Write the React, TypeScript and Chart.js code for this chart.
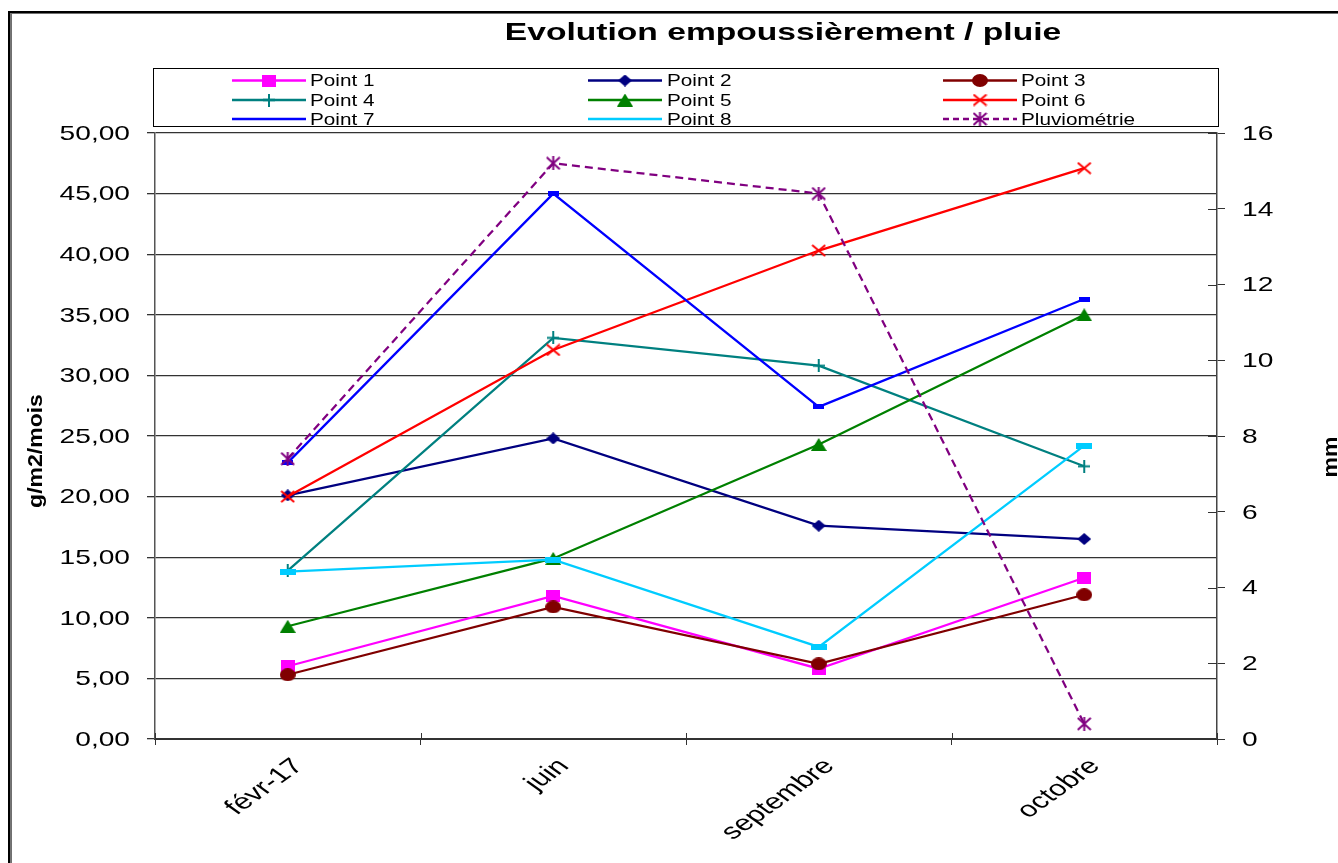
import React, { useEffect, useRef } from 'react';
import { Chart, registerables } from 'chart.js';

Chart.register(...registerables);

// ---------- data ----------
const categories = ['févr-17', 'juin', 'septembre', 'octobre'];
const point1 = [6.0, 11.8, 5.8, 13.3];
const point2 = [20.1, 24.8, 17.6, 16.5];
const point3 = [5.3, 10.9, 6.2, 11.9];
const point4 = [13.9, 33.1, 30.8, 22.5];
const point5 = [9.3, 14.9, 24.3, 35.0];
const point6 = [20.0, 32.1, 40.3, 47.1];
const point7 = [22.8, 45.0, 27.4, 36.3];
const point8 = [13.8, 14.8, 7.6, 24.2];
const pluviometrie = [7.4, 15.2, 14.4, 0.4];

const seriesNames = ['Point 1', 'Point 2', 'Point 3', 'Point 4', 'Point 5', 'Point 6', 'Point 7', 'Point 8', 'Pluviométrie'];
const leftTickLabels = ['0,00', '5,00', '10,00', '15,00', '20,00', '25,00', '30,00', '35,00', '40,00', '45,00', '50,00'];
const rightTickLabels = ['0', '2', '4', '6', '8', '10', '12', '14', '16'];
const titleText = 'Evolution empoussièrement / pluie';
const leftAxisTitle = 'g/m2/mois';
const rightAxisTitle = 'mm';

// ---------- styles ----------
const colors = ['#FF00FF', '#000080', '#800000', '#008080', '#008000', '#FF0000', '#0000FF', '#00CCFF', '#800080'];
const FONT = '"Liberation Sans", Arial, sans-serif';
const SX = 1.4;

function makeMarker(w: number, h: number, draw: (ctx: CanvasRenderingContext2D, w: number, h: number) => void) {
  const c = document.createElement('canvas');
  c.width = w;
  c.height = h;
  const ctx = c.getContext('2d') as CanvasRenderingContext2D;
  draw(ctx, w, h);
  return c;
}

function buildMarkers() {
  const m: (HTMLCanvasElement | null)[] = [];
  m.push(makeMarker(14, 12, (c, w, h) => { c.fillStyle = colors[0]; c.fillRect(0, 0, w, h); }));
  m.push(makeMarker(14, 12, (c, w, h) => {
    c.fillStyle = colors[1]; c.beginPath(); c.moveTo(w / 2, 0); c.lineTo(w, h / 2); c.lineTo(w / 2, h); c.lineTo(0, h / 2); c.closePath(); c.fill();
  }));
  m.push(makeMarker(16, 13, (c, w, h) => {
    c.fillStyle = colors[2]; c.beginPath(); c.ellipse(w / 2, h / 2, w / 2, h / 2, 0, 0, Math.PI * 2); c.fill();
  }));
  m.push(makeMarker(12, 13, (c, w, h) => {
    c.strokeStyle = colors[3]; c.lineWidth = 2; c.beginPath(); c.moveTo(0, h / 2); c.lineTo(w, h / 2); c.moveTo(w / 2, 0); c.lineTo(w / 2, h); c.stroke();
  }));
  m.push(makeMarker(16, 13, (c, w, h) => {
    c.fillStyle = colors[4]; c.beginPath(); c.moveTo(w / 2, 0); c.lineTo(w, h); c.lineTo(0, h); c.closePath(); c.fill();
  }));
  m.push(makeMarker(15, 13, (c, w, h) => {
    c.strokeStyle = colors[5]; c.lineWidth = 2; c.beginPath(); c.moveTo(1, 1); c.lineTo(w - 1, h - 1); c.moveTo(w - 1, 1); c.lineTo(1, h - 1); c.stroke();
  }));
  m.push(makeMarker(11, 5, (c, w, h) => { c.fillStyle = colors[6]; c.fillRect(0, 0, w, h); }));
  m.push(makeMarker(16, 6, (c, w, h) => { c.fillStyle = colors[7]; c.fillRect(0, 0, w, h); }));
  m.push(makeMarker(15, 14, (c, w, h) => {
    c.strokeStyle = colors[8]; c.lineWidth = 2; c.beginPath();
    c.moveTo(1, 1); c.lineTo(w - 1, h - 1); c.moveTo(w - 1, 1); c.lineTo(1, h - 1);
    c.moveTo(w / 2, 0); c.lineTo(w / 2, h); c.stroke();
  }));
  return m;
}

function drawText(ctx: CanvasRenderingContext2D, text: string, x: number, y: number, o: {
  font: string; align: CanvasTextAlign; baseline: CanvasTextBaseline; rotate?: number; sx?: number; screenStretch?: boolean; color?: string;
}) {
  ctx.save();
  ctx.translate(x, y);
  if (o.screenStretch) {
    ctx.scale(o.sx ?? 1, 1);
    ctx.rotate(o.rotate ?? 0);
  } else {
    ctx.rotate(o.rotate ?? 0);
    ctx.scale(o.sx ?? 1, 1);
  }
  ctx.font = o.font;
  ctx.fillStyle = o.color ?? '#000';
  ctx.textAlign = o.align;
  ctx.textBaseline = o.baseline;
  ctx.fillText(text, 0, 0);
  ctx.restore();
}

export default function App() {
  const ref = useRef<HTMLCanvasElement | null>(null);

  useEffect(() => {
    document.body.style.margin = '0';
    const canvas = ref.current;
    if (!canvas) return;
    const markers = buildMarkers();
    const series = [point1, point2, point3, point4, point5, point6, point7, point8, pluviometrie];

    const datasets = series.map((data, i) => ({
      label: seriesNames[i],
      data,
      yAxisID: i === 8 ? 'y1' : 'y',
      borderColor: colors[i],
      backgroundColor: colors[i],
      borderWidth: 2.25,
      borderDash: i === 8 ? [8, 5] : [],
      pointStyle: markers[i] as any,
      pointRadius: 7,
      pointHoverRadius: 7,
      tension: 0,
      fill: false,
      order: 9 - i,
    }));

    const decorPlugin = {
      id: 'decor',
      beforeDraw(chart: any) {
        const ctx = chart.ctx as CanvasRenderingContext2D;
        ctx.save();
        ctx.fillStyle = '#ffffff';
        ctx.fillRect(0, 0, chart.width, chart.height);
        ctx.fillStyle = '#000';
        ctx.fillRect(8, 11, 2.5, chart.height - 11);
        ctx.fillRect(8, 11, chart.width - 8, 2);
        ctx.fillStyle = '#707070';
        ctx.fillRect(10.5, 13, 1.5, chart.height - 13);
        ctx.fillRect(10.5, 13, chart.width - 10, 1);
        ctx.restore();
      },
      afterDraw(chart: any) {
        const ctx = chart.ctx as CanvasRenderingContext2D;
        const area = chart.chartArea;
        const xs = chart.scales.x;
        const ys = chart.scales.y;
        const y1 = chart.scales.y1;

        // inner halves of crossing tick marks
        ctx.save();
        ctx.strokeStyle = '#333';
        ctx.lineWidth = 1;
        for (let k = 0; k <= categories.length; k++) {
          const x = Math.round(area.left + (k * (area.right - area.left)) / categories.length) + 0.5;
          ctx.beginPath(); ctx.moveTo(x, area.bottom - 6); ctx.lineTo(x, area.bottom); ctx.stroke();
        }
        rightTickLabels.forEach((_, i) => {
          const y = Math.round(y1.getPixelForValue(i * 2)) + 0.5;
          ctx.beginPath(); ctx.moveTo(area.right - 9, y); ctx.lineTo(area.right, y); ctx.stroke();
        });
        ctx.restore();

        // tick labels
        leftTickLabels.forEach((lab, i) => {
          drawText(ctx, lab, 130, ys.getPixelForValue(i * 5) + 1, { font: `21px ${FONT}`, align: 'right', baseline: 'middle', sx: 1.34 });
        });
        rightTickLabels.forEach((lab, i) => {
          drawText(ctx, lab, 1242, y1.getPixelForValue(i * 2) + 1, { font: `21px ${FONT}`, align: 'left', baseline: 'middle', sx: 1.34 });
        });
        categories.forEach((lab, i) => {
          const cx = xs.getPixelForValue(i);
          drawText(ctx, lab, cx, 755, { font: `22px ${FONT}`, align: 'right', baseline: 'top', rotate: -Math.PI / 4, sx: SX, screenStretch: true });
        });

        // axis titles
        drawText(ctx, leftAxisTitle, 42, 451, { font: `bold 20px ${FONT}`, align: 'center', baseline: 'alphabetic', rotate: -Math.PI / 2, sx: 1.15 });
        drawText(ctx, rightAxisTitle, 1337, 457, { font: `bold 20px ${FONT}`, align: 'center', baseline: 'alphabetic', rotate: -Math.PI / 2, sx: 1.15 });

        // title
        drawText(ctx, titleText, 783, 40, { font: `bold 24px ${FONT}`, align: 'center', baseline: 'alphabetic', sx: SX });

        // legend
        ctx.save();
        ctx.strokeStyle = '#000';
        ctx.lineWidth = 1;
        ctx.strokeRect(153.5, 68.5, 1065, 58);
        ctx.restore();
        const lineStarts = [232, 588, 943];
        const textStarts = [310, 667, 1021];
        const rowYs = [80.5, 100, 119];
        seriesNames.forEach((name, i) => {
          const col = i % 3;
          const row = Math.floor(i / 3);
          const y = rowYs[row];
          const x0 = lineStarts[col];
          ctx.save();
          ctx.strokeStyle = colors[i];
          ctx.lineWidth = 2.5;
          ctx.setLineDash(i === 8 ? [6, 4] : []);
          ctx.beginPath(); ctx.moveTo(x0, y); ctx.lineTo(x0 + 74, y); ctx.stroke();
          ctx.restore();
          if (i !== 6 && i !== 7) {
            const mk = markers[i] as HTMLCanvasElement;
            ctx.drawImage(mk, x0 + 37 - mk.width / 2, y - mk.height / 2);
          }
          drawText(ctx, name, textStarts[col], y + 1, { font: `17px ${FONT}`, align: 'left', baseline: 'middle', sx: 1.22 });
        });
      },
    };

    const chart = new Chart(canvas, {
      type: 'line',
      data: { labels: categories, datasets: datasets as any },
      options: {
        responsive: false,
        animation: false,
        events: [],
        layout: { padding: { top: 133, left: 0, right: 0, bottom: 0 } },
        plugins: { legend: { display: false }, title: { display: false }, tooltip: { enabled: false } },
        scales: {
          x: {
            type: 'category',
            offset: true,
            grid: { offset: true, drawOnChartArea: false, tickLength: 6, color: '#333', lineWidth: 1 },
            border: { color: '#333', width: 2 },
            ticks: { display: false },
            afterFit: (s: any) => { s.height = 124; },
          },
          y: {
            position: 'left',
            min: 0,
            max: 50,
            ticks: { stepSize: 5, display: false },
            grid: { color: '#333', lineWidth: 1.3, tickLength: 8 },
            border: { color: '#555', width: 1.5 },
            afterFit: (s: any) => { s.width = 155; },
          },
          y1: {
            position: 'right',
            min: 0,
            max: 16,
            ticks: { stepSize: 2, display: false },
            grid: { drawOnChartArea: false, tickLength: 8, color: '#333' },
            border: { color: '#444', width: 1.5 },
            afterFit: (s: any) => { s.width = 121; },
          },
        },
      } as any,
      plugins: [decorPlugin],
    });

    return () => { chart.destroy(); };
  }, []);

  return (
    <div style={{ width: 1338, height: 863 }}>
      <canvas ref={ref} width={1338} height={863} style={{ display: 'block' }} />
    </div>
  );
}
